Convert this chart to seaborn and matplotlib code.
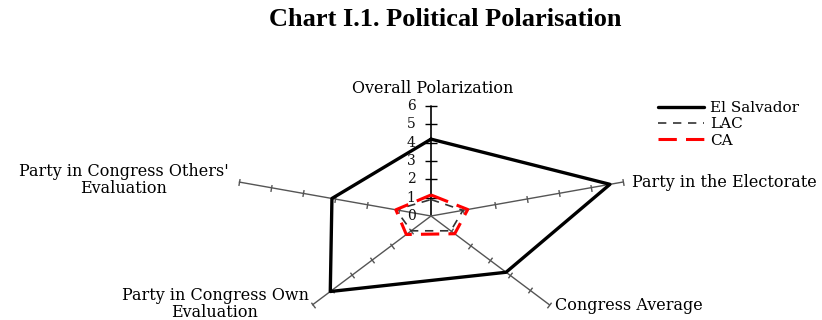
import numpy as np
import pandas as pd
import matplotlib
matplotlib.use("Agg")
import matplotlib.pyplot as plt
from matplotlib.markers import MarkerStyle
from matplotlib.transforms import Affine2D
import seaborn as sns

categories = ["Overall Polarization", "Party in the Electorate", "Congress Average",
              "Party in Congress Own\nEvaluation", "Party in Congress Others'\nEvaluation"]
el_salvador = [4.2, 5.6, 3.8, 5.1, 3.1]
lac = [0.9, 1.0, 1.0, 1.0, 1.1]
ca = [1.15, 1.15, 1.2, 1.25, 1.1]
ticks = [0, 1, 2, 3, 4, 5, 6]
title = "Chart I.1. Political Polarisation"

sns.set_style("white")
plt.rcParams["font.family"] = ["DejaVu Serif", "Liberation Serif"]

W, H = 822, 320
fig = plt.figure(figsize=(W / 100, H / 100), dpi=100)
ax = fig.add_axes([0, 0, 1, 1])
ax.set_axis_off()

# pixel scale per data unit
sx, sy = 33.6, 18.3
cx, cy = 431, 216  # centre in pixels from left/top
ax.set_xlim(-cx / sx, (W - cx) / sx)
ax.set_ylim(-(H - cy) / sy, cy / sy)

angles = np.deg2rad([90, 18, -54, -126, -198])
rmax = max(ticks)

def xy(vals):
    v = np.array(list(vals) + [vals[0]])
    a = np.array(list(angles) + [angles[0]])
    return v * np.cos(a), v * np.sin(a)

# axes spokes and ticks
for i, a in enumerate(angles):
    col = "black" if i == 0 else "#555555"
    ax.plot([0, rmax * np.cos(a)], [0, rmax * np.sin(a)], color=col, lw=1.0 if i else 1.2, zorder=1)
    phi = np.degrees(np.arctan2(np.sin(a) * sy, np.cos(a) * sx))
    m = MarkerStyle("|", transform=Affine2D().rotate_deg(phi))
    tr = np.array(ticks[1:])
    ax.scatter(tr * np.cos(a), tr * np.sin(a), marker=m, s=80 if i == 0 else 25,
               color=col, linewidths=1.0, zorder=1)

for t in ticks:
    ax.text(-20 / sx, t, str(t), ha="center", va="center", fontsize=10, color="#111111")

series = [("El Salvador", el_salvador, dict(color="black", lw=2.4)),
          ("LAC", lac, dict(color="#333333", lw=1.2, dashes=(5, 4))),
          ("CA", ca, dict(color="#ff0000", lw=2.2, dashes=(6, 3)))]
handles = []
for name, vals, st in series:
    x, y = xy(vals)
    df = pd.DataFrame({"x": x, "y": y})
    dashes = st.pop("dashes", None)
    sns.lineplot(data=df, x="x", y="y", sort=False, estimator=None, ax=ax,
                 label=name, zorder=3, **st)
    ln = ax.get_lines()[-1]
    if dashes is not None:
        ln.set_dashes(dashes)
    handles.append(ln)

def px(xp, yp):
    return (xp - cx) / sx, (cy - yp) / sy

lab_pos = [((433, 89), "center", "center"),
           ((632, 183), "left", "center"),
           ((555, 305), "left", "center"),
           ((215, 304), "center", "center"),
           ((124, 180), "center", "center")]
for cat, ((xp, yp), ha, va) in zip(categories, lab_pos):
    X, Y = px(xp, yp)
    ax.text(X, Y, cat, ha=ha, va=va, fontsize=11.5, linespacing=1.05, color="black")

leg = ax.legend(handles=handles, labels=[s[0] for s in series], loc="upper left",
                bbox_to_anchor=(652 / W, 1 - 95 / H), frameon=False, fontsize=11,
                handlelength=3.0, labelspacing=0.15, borderaxespad=0, handletextpad=0.4)
for txt in leg.get_texts():
    txt.set_color("black")

fig.text(445 / W, 1 - 20 / H, title, ha="center", va="center", fontsize=19,
         fontweight="bold", family="Liberation Serif", color="black")

fig.savefig("out.png", dpi=100)
